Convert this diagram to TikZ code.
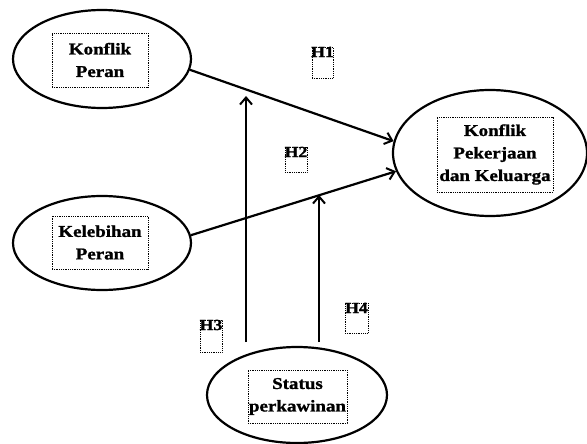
\documentclass[tikz,border=0pt]{standalone}
\usepackage{fontspec}
\setmainfont{Liberation Serif}[FakeStretch=1.15,BoldFeatures={FakeBold=1.2}]
\usetikzlibrary{shapes.geometric,arrows.meta}
\tikzset{
  oval/.style={ellipse, draw, line width=2.2pt, inner sep=0pt},
  tbox/.style={draw, densely dotted, line width=0.8pt, inner sep=0pt, align=center,
    font=\bfseries\fontsize{16.5}{22.5}\selectfont},
  hbox/.style={draw, densely dotted, line width=0.8pt, inner sep=0pt},
  hlab/.style={inner sep=0pt, anchor=north, font=\bfseries\fontsize{15.5}{15.5}\selectfont},
  conn/.style={line width=2.2pt, -{Straight Barb[length=7pt,width=12pt,line width=2pt]}}
}
\begin{document}
\begin{tikzpicture}[x=1pt,y=-1pt]
\useasboundingbox (0,0) rectangle (587,444);
% ellipses
\node[oval, minimum width=178pt, minimum height=98pt] (k1) at (102,59) {};
\node[oval, minimum width=178pt, minimum height=94pt] (k2) at (102,243) {};
\node[oval, minimum width=194pt, minimum height=126pt] (kpk) at (490,153) {};
\node[oval, minimum width=180pt, minimum height=96pt] (st) at (297,395) {};
% text boxes
\node[tbox, minimum width=96pt, minimum height=54pt] (t1) at (100,60) {Konflik\\Peran};
\node[tbox, minimum width=96pt, minimum height=53pt] (t2) at (100,242.5) {Kelebihan\\Peran};
\node[tbox, minimum width=116pt, minimum height=75pt] (t3) at (495,154.5) {Konflik\\Pekerjaan\\dan Keluarga};
\node[tbox, minimum width=99pt, minimum height=53pt] (t4) at (297.5,396.5) {Status\\perkawinan};
% hypothesis labels
\node[hbox, minimum width=21pt, minimum height=31pt] (h1b) at (322.5,62.5) {};
\node[hlab] (h1) at (h1b.north) {H1};
\node[hbox, minimum width=22pt, minimum height=25pt] (h2b) at (296,159.5) {};
\node[hlab] (h2) at (h2b.north) {H2};
\node[hbox, minimum width=22pt, minimum height=32pt] (h3b) at (211,336) {};
\node[hlab] (h3) at (h3b.north) {H3};
\node[hbox, minimum width=23pt, minimum height=30pt] (h4b) at (356.5,318) {};
\node[hlab] (h4) at (h4b.north) {H4};
% connectors
\draw[conn] (k1.-7) -- (kpk.173);
\draw[conn] (k2.5) -- (kpk.191);
\coordinate (v1s) at (246,342);
\coordinate (v1e) at (246,96);
\coordinate (v2s) at (319,342);
\coordinate (v2e) at (319,195);
\draw[conn] (v1s) -- (v1e);
\draw[conn] (v2s) -- (v2e);
\end{tikzpicture}
\end{document}
